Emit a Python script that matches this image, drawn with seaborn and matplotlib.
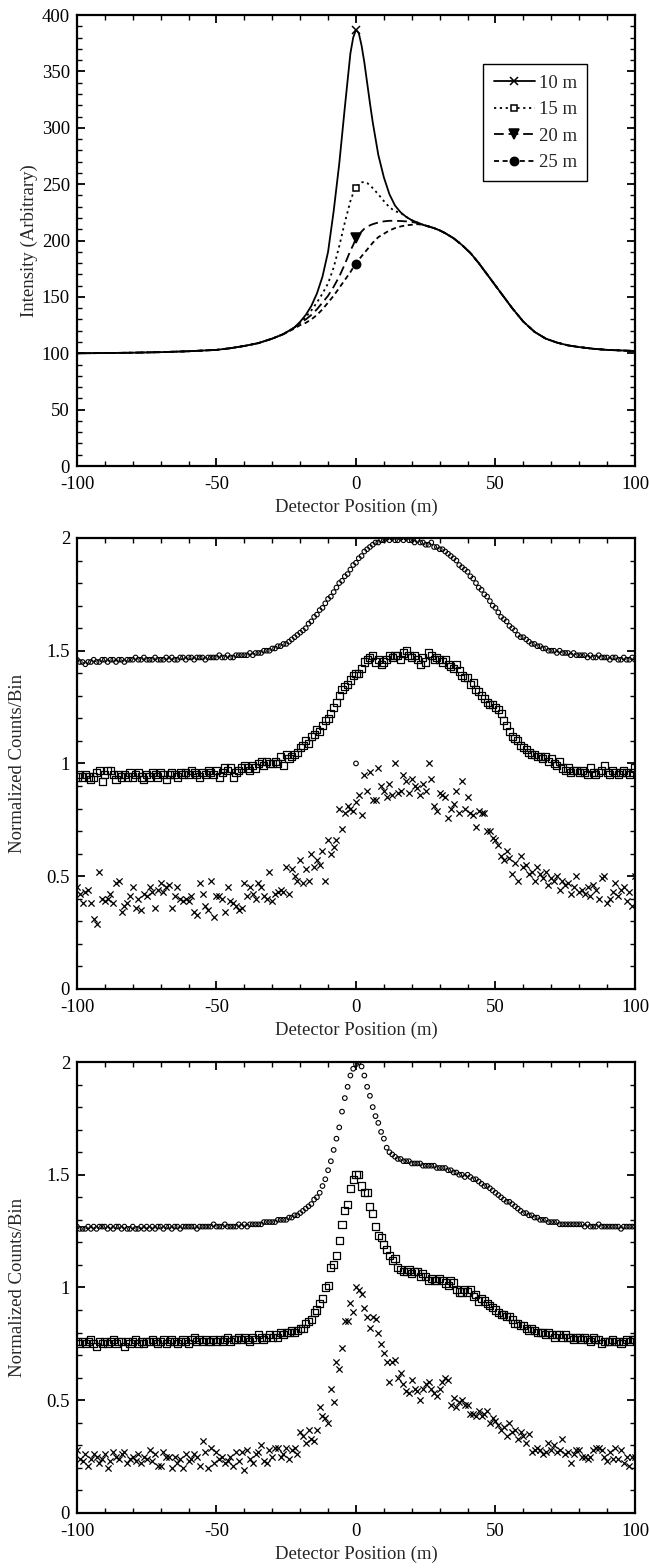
import numpy as np
import pandas as pd
import matplotlib
matplotlib.use("Agg")
import matplotlib.pyplot as plt
import matplotlib.lines as mlines
from matplotlib.ticker import MultipleLocator, FuncFormatter
import seaborn as sns

sns.set_style("ticks")
plt.rcParams["font.family"] = ["Liberation Serif", "DejaVu Serif"]
plt.rcParams["lines.scale_dashes"] = False

# ---------------- Top panel: simulated intensity curves ----------------
x_line = [-100, -90, -80, -70, -60, -50, -45, -40, -35, -30, -26, -22,
          -20, -18, -16, -14, -12, -10, -8, -6, -4, -2, -1, 0, 1, 2, 3, 4, 5, 6,
          8, 10, 12, 14, 16, 18, 20, 22, 24,
          26, 28, 30, 32, 35, 38, 41, 44, 47, 50, 53, 56, 60, 64, 68, 72, 76,
          80, 85, 90, 95, 100]

int_10m = [100.0, 100.2, 100.5, 101.0, 101.8, 103.0, 104.5, 106.5, 109.0, 113.0, 117.0, 123.0,
           128, 134, 142, 153, 168, 190, 226, 268, 318, 366, 380, 387, 384, 373, 358, 340, 322, 305,
           276, 256, 241, 231, 225, 221, 218, 216, 214,
           212.5, 211.0, 209.0, 206.5, 202.0, 196.0, 189.0, 180.0, 170.0, 160.0, 150.0, 140.0,
           128.0, 119.0, 113.0, 109.5, 107.0, 105.5, 104.0, 103.0, 102.5, 102.0]
int_15m = [100.0, 100.2, 100.5, 101.0, 101.8, 103.0, 104.5, 106.5, 109.0, 113.0, 117.0, 123.0,
           127, 132, 138, 145, 153, 162, 176, 195, 216, 235, 242, 247, 250, 251.5, 252, 251, 249, 246.5,
           241, 235, 229.5, 226, 224.5, 221, 218, 216, 214,
           212.5, 211.0, 209.0, 206.5, 202.0, 196.0, 189.0, 180.0, 170.0, 160.0, 150.0, 140.0,
           128.0, 119.0, 113.0, 109.5, 107.0, 105.5, 104.0, 103.0, 102.5, 102.0]
int_20m = [100.0, 100.2, 100.5, 101.0, 101.8, 103.0, 104.5, 106.5, 109.0, 113.0, 117.0, 123.0,
           127, 130, 134, 139, 145, 151, 159, 168, 179, 191, 196, 202, 205, 208, 210.5, 212, 213.5, 214.5,
           216, 217, 217.5, 217.5, 217.3, 217, 216.5, 215.5, 214,
           212.5, 211.0, 209.0, 206.5, 202.0, 196.0, 189.0, 180.0, 170.0, 160.0, 150.0, 140.0,
           128.0, 119.0, 113.0, 109.5, 107.0, 105.5, 104.0, 103.0, 102.5, 102.0]
int_25m = [100.0, 100.2, 100.5, 101.0, 101.8, 103.0, 104.5, 106.5, 109.0, 113.0, 117.0, 122.0,
           125, 127, 130, 134, 139, 145, 151, 158, 165, 172, 176, 179, 183, 186, 189, 192, 195, 198,
           203, 206, 209, 211, 212.5, 213.5, 214, 214.5, 214,
           212.5, 211.0, 209.0, 206.5, 202.0, 196.0, 189.0, 180.0, 170.0, 160.0, 150.0, 140.0,
           128.0, 119.0, 113.0, 109.5, 107.0, 105.5, 104.0, 103.0, 102.5, 102.0]
line_labels = ["10 m", "15 m", "20 m", "25 m"]

# ---------------- Measured normalized counts (x = -100 .. 100, 1 m bins) ----------------
pos = list(range(-100, 101))

mid_circ = [1.46, 1.45, 1.45, 1.44, 1.45, 1.45, 1.46, 1.45, 1.45, 1.46,
            1.46, 1.45, 1.46, 1.46, 1.45, 1.46, 1.46, 1.45, 1.46, 1.46,
            1.46, 1.47, 1.46, 1.46, 1.47, 1.46, 1.46, 1.46, 1.47, 1.46,
            1.46, 1.46, 1.47, 1.46, 1.47, 1.46, 1.46, 1.47, 1.47, 1.46,
            1.47, 1.47, 1.46, 1.47, 1.47, 1.47, 1.46, 1.47, 1.47, 1.47,
            1.47, 1.48, 1.47, 1.47, 1.48, 1.47, 1.47, 1.48, 1.48, 1.48,
            1.48, 1.48, 1.49, 1.48, 1.49, 1.49, 1.49, 1.50, 1.50, 1.50,
            1.51, 1.51, 1.52, 1.52, 1.53, 1.53, 1.54, 1.55, 1.56, 1.57,
            1.58, 1.59, 1.60, 1.62, 1.63, 1.65, 1.66, 1.68, 1.69, 1.71,
            1.73, 1.74, 1.76, 1.78, 1.80, 1.81, 1.83, 1.84, 1.86, 1.88,
            1.89, 1.91, 1.92, 1.94, 1.95, 1.96, 1.97, 1.98, 1.98, 1.99,
            1.99, 2.00, 1.99, 2.00, 1.99, 1.99, 2.00, 1.99, 2.00, 1.99,
            1.99, 1.98, 1.99, 1.98, 1.98, 1.97, 1.97, 1.98, 1.96, 1.96,
            1.95, 1.95, 1.94, 1.93, 1.92, 1.91, 1.90, 1.88, 1.87, 1.86,
            1.85, 1.83, 1.82, 1.80, 1.78, 1.77, 1.75, 1.74, 1.72, 1.70,
            1.69, 1.67, 1.65, 1.64, 1.63, 1.61, 1.60, 1.59, 1.57, 1.56,
            1.56, 1.55, 1.54, 1.53, 1.53, 1.52, 1.52, 1.51, 1.51, 1.50,
            1.50, 1.50, 1.49, 1.50, 1.49, 1.49, 1.49, 1.48, 1.49, 1.48,
            1.48, 1.48, 1.48, 1.47, 1.48, 1.47, 1.47, 1.48, 1.47, 1.47,
            1.47, 1.46, 1.47, 1.47, 1.46, 1.46, 1.47, 1.46, 1.46, 1.47, 1.46]

mid_sq = [0.94, 0.95, 0.94, 0.95, 0.94, 0.93, 0.94, 0.96, 0.97, 0.92,
          0.95, 0.97, 0.97, 0.95, 0.93, 0.95, 0.94, 0.95, 0.94, 0.96,
          0.94, 0.95, 0.96, 0.94, 0.93, 0.95, 0.94, 0.96, 0.95, 0.94,
          0.96, 0.95, 0.93, 0.95, 0.96, 0.95, 0.94, 0.96, 0.95, 0.96,
          0.95, 0.97, 0.96, 0.95, 0.94, 0.96, 0.95, 0.97, 0.96, 0.95,
          0.97, 0.94, 0.96, 0.98, 0.97, 0.98, 0.94, 0.96, 0.97, 0.98,
          0.99, 0.98, 0.97, 0.99, 0.98, 1.00, 1.01, 0.99, 1.01, 1.00,
          1.00, 1.01, 1.00, 1.03, 0.99, 1.04, 1.02, 1.03, 1.04, 1.05,
          1.07, 1.08, 1.10, 1.09, 1.12, 1.13, 1.15, 1.14, 1.17, 1.19,
          1.20, 1.22, 1.25, 1.27, 1.30, 1.33, 1.34, 1.35, 1.37, 1.39,
          1.40, 1.40, 1.42, 1.45, 1.46, 1.47, 1.48, 1.45, 1.46, 1.44,
          1.45, 1.46, 1.48, 1.47, 1.48, 1.48, 1.46, 1.49, 1.50, 1.48,
          1.47, 1.48, 1.46, 1.44, 1.47, 1.45, 1.49, 1.48, 1.46, 1.47,
          1.46, 1.45, 1.46, 1.44, 1.43, 1.42, 1.44, 1.41, 1.39, 1.38,
          1.38, 1.35, 1.36, 1.33, 1.32, 1.30, 1.29, 1.27, 1.26, 1.26,
          1.25, 1.24, 1.22, 1.19, 1.17, 1.14, 1.12, 1.11, 1.10, 1.08,
          1.07, 1.06, 1.05, 1.04, 1.04, 1.03, 1.03, 1.02, 1.03, 1.01,
          1.02, 1.00, 0.99, 1.01, 0.98, 0.97, 0.98, 0.96, 0.97, 0.97,
          0.96, 0.97, 0.96, 0.95, 0.98, 0.96, 0.95, 0.96, 0.97, 0.99,
          0.96, 0.95, 0.97, 0.96, 0.95, 0.96, 0.97, 0.96, 0.95, 0.96, 0.98]

mid_x = [0.45, 0.42, 0.38, 0.43, 0.44, 0.38, 0.31, 0.29, 0.52, 0.40,
         0.39, 0.40, 0.42, 0.38, 0.47, 0.48, 0.34, 0.37, 0.38, 0.41,
         0.45, 0.36, 0.40, 0.35, 0.42, 0.41, 0.45, 0.43, 0.36, 0.44,
         0.47, 0.43, 0.45, 0.46, 0.36, 0.41, 0.45, 0.40, 0.39, 0.40,
         0.39, 0.41, 0.34, 0.33, 0.47, 0.42, 0.37, 0.35, 0.48, 0.32,
         0.41, 0.41, 0.40, 0.34, 0.45, 0.39, 0.38, 0.37, 0.35, 0.36,
         0.47, 0.41, 0.45, 0.42, 0.40, 0.47, 0.45, 0.41, 0.40, 0.52,
         0.39, 0.42, 0.43, 0.44, 0.43, 0.54, 0.42, 0.53, 0.50, 0.48,
         0.57, 0.47, 0.53, 0.48, 0.60, 0.54, 0.57, 0.55, 0.61, 0.48,
         0.66, 0.60, 0.63, 0.66, 0.80, 0.71, 0.78, 0.81, 0.80, 0.79,
         0.83, 0.86, 0.77, 0.95, 0.88, 0.96, 0.84, 0.84, 0.98, 0.90,
         0.88, 0.85, 0.91, 0.86, 1.00, 0.87, 0.88, 0.95, 0.92, 0.87,
         0.93, 0.90, 0.89, 0.86, 0.91, 0.88, 1.00, 0.93, 0.81, 0.79,
         0.87, 0.86, 0.85, 0.76, 0.80, 0.82, 0.88, 0.78, 0.92, 0.80,
         0.85, 0.78, 0.77, 0.72, 0.79, 0.78, 0.78, 0.70, 0.70, 0.67,
         0.66, 0.64, 0.59, 0.57, 0.61, 0.58, 0.51, 0.56, 0.48, 0.59,
         0.54, 0.55, 0.51, 0.52, 0.48, 0.54, 0.51, 0.49, 0.52, 0.46,
         0.49, 0.48, 0.50, 0.44, 0.48, 0.46, 0.47, 0.42, 0.45, 0.50,
         0.43, 0.44, 0.42, 0.45, 0.41, 0.46, 0.44, 0.40, 0.49, 0.50,
         0.38, 0.40, 0.43, 0.47, 0.41, 0.44, 0.45, 0.39, 0.43, 0.37, 0.50]

mid_ref_x = [0]
mid_ref_y = [1.0]

bot_circ = [1.27, 1.26, 1.26, 1.26, 1.27, 1.26, 1.27, 1.26, 1.27, 1.27,
            1.27, 1.26, 1.27, 1.26, 1.27, 1.27, 1.26, 1.27, 1.26, 1.26,
            1.27, 1.26, 1.26, 1.27, 1.26, 1.27, 1.26, 1.27, 1.26, 1.27,
            1.27, 1.26, 1.27, 1.27, 1.26, 1.27, 1.27, 1.26, 1.27, 1.27,
            1.27, 1.27, 1.27, 1.26, 1.27, 1.27, 1.27, 1.27, 1.27, 1.28,
            1.27, 1.27, 1.27, 1.28, 1.27, 1.27, 1.27, 1.27, 1.28, 1.27,
            1.28, 1.27, 1.28, 1.28, 1.28, 1.28, 1.28, 1.29, 1.29, 1.29,
            1.29, 1.29, 1.30, 1.30, 1.30, 1.30, 1.31, 1.31, 1.32, 1.32,
            1.33, 1.34, 1.35, 1.36, 1.37, 1.39, 1.40, 1.42, 1.45, 1.48,
            1.52, 1.56, 1.61, 1.66, 1.71, 1.78, 1.84, 1.89, 1.94, 1.97,
            1.99, 2.00, 1.98, 1.94, 1.89, 1.85, 1.80, 1.76, 1.73, 1.69,
            1.66, 1.62, 1.60, 1.59, 1.58, 1.57, 1.57, 1.56, 1.56, 1.56,
            1.55, 1.55, 1.55, 1.55, 1.54, 1.54, 1.54, 1.54, 1.54, 1.53,
            1.53, 1.53, 1.53, 1.52, 1.52, 1.51, 1.51, 1.50, 1.50, 1.49,
            1.50, 1.49, 1.48, 1.48, 1.47, 1.46, 1.45, 1.45, 1.44, 1.43,
            1.42, 1.41, 1.40, 1.39, 1.38, 1.38, 1.37, 1.36, 1.35, 1.34,
            1.33, 1.33, 1.32, 1.32, 1.31, 1.31, 1.30, 1.30, 1.30, 1.29,
            1.29, 1.29, 1.29, 1.28, 1.28, 1.28, 1.28, 1.28, 1.28, 1.28,
            1.28, 1.28, 1.27, 1.28, 1.27, 1.27, 1.27, 1.28, 1.27, 1.27,
            1.27, 1.27, 1.27, 1.27, 1.27, 1.26, 1.27, 1.27, 1.27, 1.27, 1.27]

bot_sq = [0.76, 0.75, 0.76, 0.75, 0.76, 0.77, 0.75, 0.74, 0.76, 0.75,
          0.76, 0.75, 0.76, 0.77, 0.75, 0.76, 0.76, 0.74, 0.76, 0.75,
          0.76, 0.77, 0.75, 0.76, 0.75, 0.76, 0.76, 0.77, 0.76, 0.75,
          0.76, 0.77, 0.75, 0.76, 0.77, 0.76, 0.75, 0.76, 0.77, 0.76,
          0.75, 0.77, 0.78, 0.76, 0.77, 0.76, 0.77, 0.76, 0.76, 0.77,
          0.76, 0.77, 0.76, 0.77, 0.78, 0.76, 0.77, 0.77, 0.78, 0.77,
          0.78, 0.77, 0.76, 0.78, 0.77, 0.79, 0.78, 0.77, 0.78, 0.79,
          0.78, 0.79, 0.78, 0.80, 0.79, 0.80, 0.80, 0.81, 0.80, 0.81,
          0.82, 0.82, 0.84, 0.85, 0.86, 0.89, 0.90, 0.93, 0.95, 1.00,
          1.01, 1.09, 1.10, 1.14, 1.21, 1.28, 1.34, 1.37, 1.44, 1.48,
          1.50, 1.50, 1.45, 1.42, 1.42, 1.36, 1.33, 1.27, 1.23, 1.22,
          1.19, 1.17, 1.14, 1.12, 1.13, 1.09, 1.08, 1.07, 1.07, 1.08,
          1.06, 1.07, 1.07, 1.05, 1.06, 1.05, 1.03, 1.04, 1.03, 1.03,
          1.04, 1.03, 1.02, 1.01, 1.03, 1.02, 0.99, 0.98, 0.98, 0.99,
          0.98, 0.99, 0.96, 0.97, 0.94, 0.95, 0.94, 0.93, 0.92, 0.91,
          0.90, 0.89, 0.88, 0.88, 0.87, 0.87, 0.86, 0.84, 0.84, 0.83,
          0.83, 0.82, 0.81, 0.82, 0.81, 0.80, 0.80, 0.80, 0.79, 0.80,
          0.79, 0.78, 0.79, 0.79, 0.78, 0.79, 0.78, 0.78, 0.77, 0.78,
          0.78, 0.77, 0.78, 0.77, 0.76, 0.78, 0.77, 0.77, 0.75, 0.76,
          0.76, 0.76, 0.77, 0.76, 0.76, 0.75, 0.76, 0.77, 0.76, 0.77, 0.77]

bot_x = [0.28, 0.24, 0.23, 0.26, 0.21, 0.24, 0.26, 0.25, 0.22, 0.24,
         0.26, 0.20, 0.23, 0.27, 0.25, 0.24, 0.26, 0.27, 0.22, 0.24,
         0.25, 0.23, 0.26, 0.22, 0.25, 0.24, 0.28, 0.23, 0.26, 0.21,
         0.21, 0.27, 0.25, 0.25, 0.20, 0.25, 0.22, 0.24, 0.20, 0.26,
         0.23, 0.24, 0.26, 0.25, 0.21, 0.32, 0.27, 0.20, 0.29, 0.22,
         0.27, 0.24, 0.25, 0.22, 0.23, 0.25, 0.21, 0.27, 0.23, 0.27,
         0.19, 0.28, 0.24, 0.22, 0.26, 0.27, 0.30, 0.23, 0.22, 0.28,
         0.25, 0.29, 0.29, 0.25, 0.26, 0.29, 0.24, 0.28, 0.29, 0.26,
         0.36, 0.34, 0.31, 0.37, 0.33, 0.32, 0.37, 0.47, 0.43, 0.42,
         0.40, 0.55, 0.49, 0.67, 0.64, 0.73, 0.85, 0.85, 0.93, 0.89,
         1.00, 0.99, 0.97, 0.91, 0.87, 0.82, 0.87, 0.86, 0.80, 0.75,
         0.71, 0.67, 0.58, 0.67, 0.68, 0.60, 0.62, 0.57, 0.54, 0.53,
         0.59, 0.55, 0.54, 0.50, 0.55, 0.57, 0.58, 0.55, 0.53, 0.52,
         0.55, 0.58, 0.60, 0.59, 0.48, 0.51, 0.47, 0.49, 0.50, 0.48,
         0.48, 0.44, 0.44, 0.43, 0.45, 0.43, 0.44, 0.45, 0.40, 0.42,
         0.41, 0.39, 0.37, 0.38, 0.34, 0.40, 0.36, 0.37, 0.33, 0.36,
         0.34, 0.31, 0.35, 0.27, 0.28, 0.29, 0.28, 0.26, 0.27, 0.31,
         0.28, 0.30, 0.27, 0.28, 0.33, 0.26, 0.27, 0.22, 0.26, 0.28,
         0.28, 0.25, 0.25, 0.24, 0.25, 0.28, 0.29, 0.29, 0.28, 0.25,
         0.23, 0.27, 0.24, 0.29, 0.24, 0.28, 0.22, 0.25, 0.21, 0.25, 0.25]

# ---------------- Figure ----------------
FS = 13.5
fig = plt.figure(figsize=(6.49, 15.68), dpi=100)
L, W, H = 0.1186, 0.8598, 0.2876
ax1 = fig.add_axes([L, 0.7028, W, H])
ax2 = fig.add_axes([L, 0.3693, W, H])
ax3 = fig.add_axes([L, 0.0351, W, H])


def style_axes(ax, ymax, ymajor, yminor):
    ax.set_xlim(-100, 100)
    ax.set_ylim(0, ymax)
    ax.xaxis.set_major_locator(MultipleLocator(50))
    ax.xaxis.set_minor_locator(MultipleLocator(10))
    ax.yaxis.set_major_locator(MultipleLocator(ymajor))
    ax.yaxis.set_minor_locator(MultipleLocator(yminor))
    ax.yaxis.set_major_formatter(FuncFormatter(lambda v, p: "%g" % v))
    ax.xaxis.set_major_formatter(FuncFormatter(lambda v, p: "%g" % v))
    ax.tick_params(which="both", direction="in", top=True, right=True,
                   labelsize=FS, colors="black")
    ax.tick_params(which="major", length=6, width=1.3)
    ax.tick_params(which="minor", length=3.5, width=1.0)
    ax.tick_params(axis="x", which="major", pad=7)
    ax.tick_params(axis="y", which="major", pad=5)
    for sp in ax.spines.values():
        sp.set_linewidth(1.6)
        sp.set_color("black")
    ax.set_xlabel("Detector Position (m)", fontsize=FS, labelpad=4)


# --- top panel ---
line_series = [int_10m, int_15m, int_20m, int_25m]
styles = ["-", (0, (1.6, 2.6)), (0, (7, 3.5)), (0, (3.6, 2.6))]
markers = ["x", "s", "v", "o"]
mk_face = ["black", "white", "black", "black"]
mk_size = [6, 5, 6.5, 6]
i0 = x_line.index(0)
handles = []
for ys, ls, mk, fc, ms, lab in zip(line_series, styles, markers, mk_face, mk_size, line_labels):
    df = pd.DataFrame({"x": x_line, "y": ys})
    sns.lineplot(data=df, x="x", y="y", ax=ax1, color="black", linewidth=1.3,
                 linestyle=ls, sort=False, legend=False)
    ax1.plot([x_line[i0]], [ys[i0]], marker=mk, color="black", markerfacecolor=fc,
             markeredgecolor="black", markersize=ms, markeredgewidth=1.1, linestyle="none")
    handles.append(mlines.Line2D([], [], color="black", linewidth=1.3, linestyle=ls,
                                 marker=mk, markerfacecolor=fc, markeredgecolor="black",
                                 markersize=ms, markeredgewidth=1.1, label=lab))
style_axes(ax1, 400, 50, 10)
ax1.set_ylabel("Intensity (Arbitrary)", fontsize=FS, labelpad=3)
leg = ax1.legend(handles=handles, loc="upper right", bbox_to_anchor=(0.914, 0.891),
                 frameon=True, fancybox=False, edgecolor="black", fontsize=FS,
                 handlelength=2.2, labelspacing=0.5, borderpad=0.55, handletextpad=0.2,
                 borderaxespad=0.0)
leg.get_frame().set_linewidth(1.0)
leg.get_frame().set_alpha(1.0)


def scatter_panel(ax, circ, sq, xs, extra=None):
    sns.scatterplot(x=pos, y=circ, ax=ax, marker="o", s=11, facecolors="none",
                    edgecolor="black", linewidth=0.8, legend=False)
    sns.scatterplot(x=pos, y=sq, ax=ax, marker="s", s=26, facecolors="none",
                    edgecolor="black", linewidth=0.9, legend=False)
    sns.scatterplot(x=pos, y=xs, ax=ax, marker="x", s=20, color="black",
                    linewidth=0.9, legend=False)
    if extra is not None:
        sns.scatterplot(x=extra[0], y=extra[1], ax=ax, marker="o", s=11, facecolors="none",
                        edgecolor="black", linewidth=0.8, legend=False)
    style_axes(ax, 2, 0.5, 0.1)
    ax.set_ylabel("Normalized Counts/Bin", fontsize=FS, labelpad=15)


scatter_panel(ax2, mid_circ, mid_sq, mid_x, extra=(mid_ref_x, mid_ref_y))
scatter_panel(ax3, bot_circ, bot_sq, bot_x)

fig.savefig("out.png", dpi=100)
